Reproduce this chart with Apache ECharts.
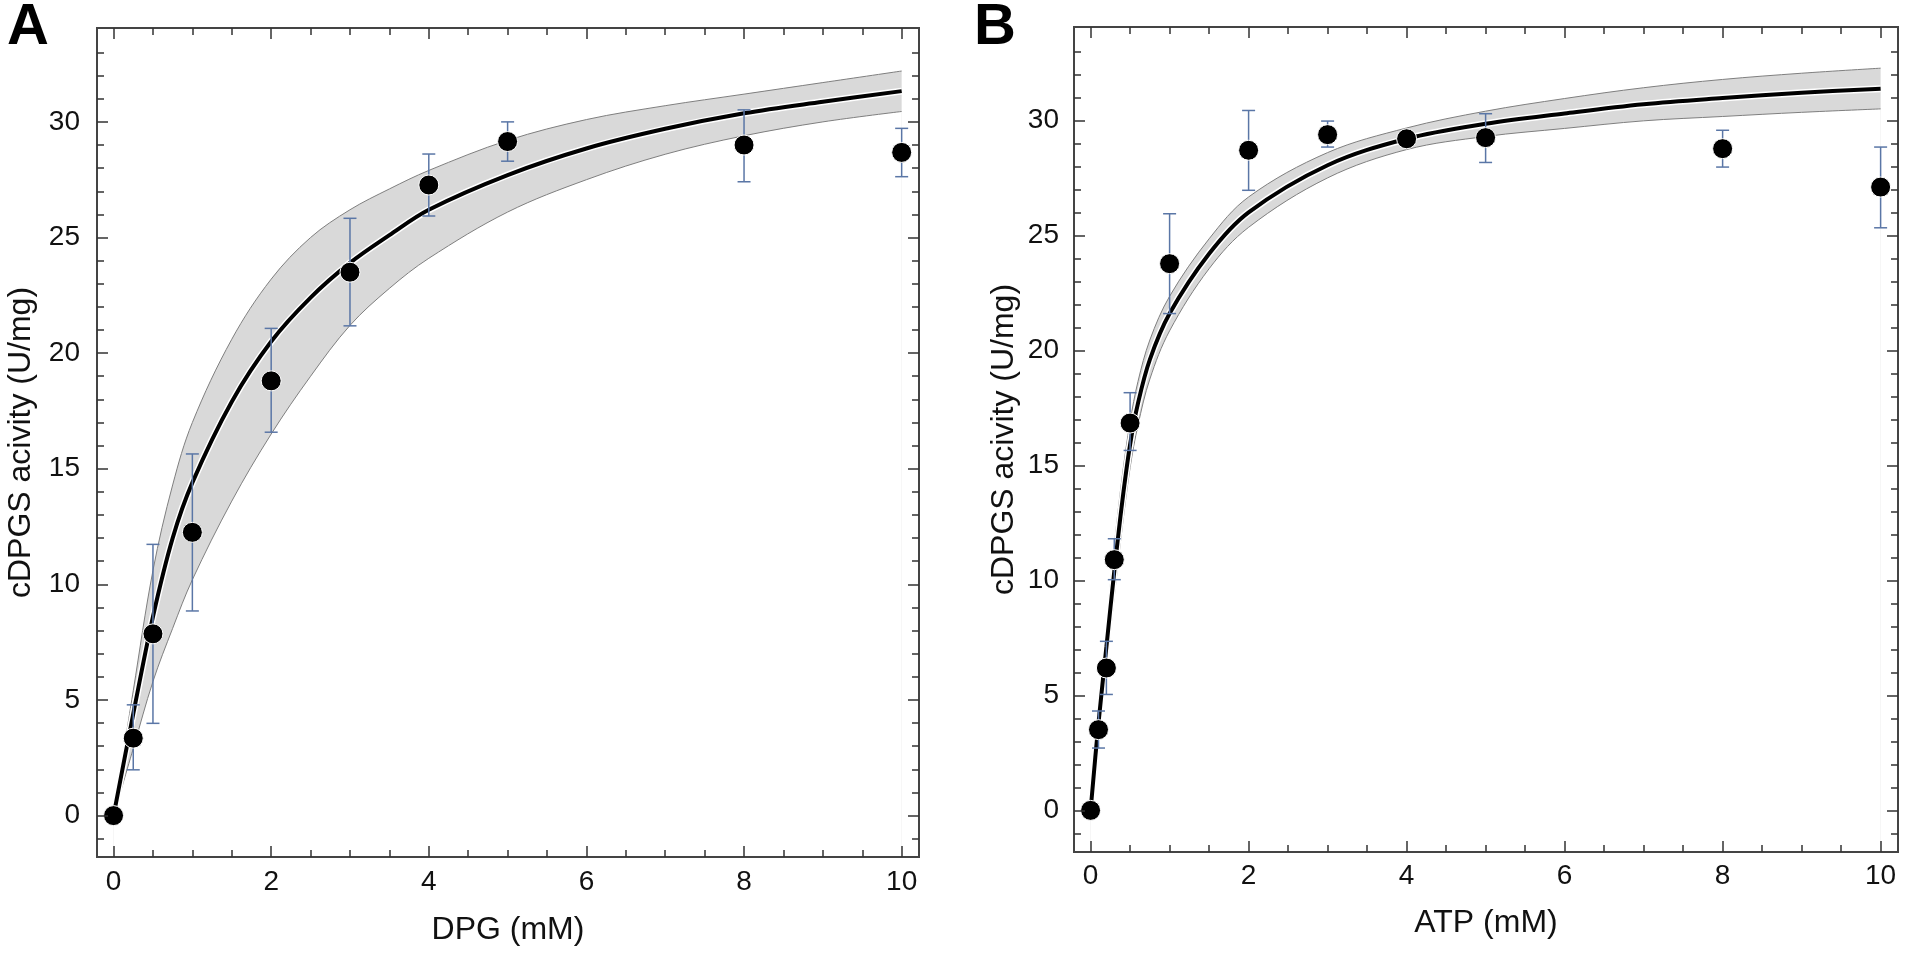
<!DOCTYPE html>
<html>
<head>
<meta charset="utf-8">
<title>cDPGS kinetics</title>
<script src="https://cdn.jsdelivr.net/npm/echarts@6/dist/echarts.min.js"></script>
<style>
html, body { margin: 0; padding: 0; background: #fff; }
#main { width: 1906px; height: 957px; }
</style>
</head>
<body>
<div id="main"></div>
<script>
/*
 * cDPGS activity vs DPG / ATP, two panels (A, B)
 */
var FONT = '"Liberation Sans", Arial, sans-serif';

// ---- panel A : DPG ----
var dpgX    = [0, 0.25, 0.5, 1, 2, 3, 4, 5, 8, 10];
var dpgY    = [0, 3.35, 7.86, 12.25, 18.8, 23.5, 27.27, 29.15, 29.0, 28.68];
var dpgLow  = [0, 1.98, 3.99, 8.85, 16.58, 21.18, 25.93, 28.3, 27.41, 27.63];
var dpgHigh = [0, 4.79, 11.73, 15.64, 21.07, 25.83, 28.61, 30.0, 30.52, 29.72];

var dpgFitX   = [0, 0.25, 0.5, 0.75, 1, 1.5, 2, 2.5, 3, 3.5, 4, 5, 6, 7, 8, 9, 10];
var dpgFit    = [0, 4.4, 8.6, 12.0, 14.4, 17.9, 20.5, 22.4, 23.9, 25.1, 26.2, 27.7, 28.85, 29.7, 30.37, 30.87, 31.33];
var dpgBandHi = [0, 5.4, 10.6, 14.3, 17.0, 20.6, 23.2, 25.0, 26.2, 27.1, 27.9, 29.2, 30.1, 30.7, 31.2, 31.7, 32.2];
var dpgBandLo = [0, 2.9, 5.8, 8.1, 10.2, 13.6, 16.5, 19.0, 21.2, 22.8, 24.1, 26.1, 27.5, 28.6, 29.4, 30.0, 30.45];

// ---- panel B : ATP ----
var atpX    = [0, 0.1, 0.2, 0.3, 0.5, 1, 2, 3, 4, 5, 8, 10];
var atpY    = [0, 3.51, 6.19, 10.9, 16.84, 23.77, 28.7, 29.38, 29.2, 29.25, 28.77, 27.1];
var atpLow  = [0, 2.71, 5.04, 10.03, 15.65, 21.6, 26.96, 28.84, 29.0, 28.17, 27.97, 25.33];
var atpHigh = [0, 4.32, 7.35, 11.81, 18.16, 25.94, 30.43, 29.97, 29.4, 30.29, 29.57, 28.84];

var atpFitX   = [0, 0.1, 0.2, 0.3, 0.4, 0.5, 0.6, 0.75, 1, 1.5, 2, 3, 4, 5, 6, 7, 8, 9, 10];
var atpFit    = [0, 3.8, 7.1, 10.4, 13.4, 15.9, 17.7, 19.6, 21.6, 24.2, 26.0, 28.05, 29.2, 29.85, 30.3, 30.7, 30.97, 31.2, 31.38];
var atpBandHi = [0, 4.3, 8.0, 11.5, 14.5, 16.9, 18.65, 20.45, 22.35, 24.85, 26.67, 28.6, 29.67, 30.4, 30.95, 31.42, 31.78, 32.05, 32.27];
var atpBandLo = [0, 3.3, 6.2, 9.3, 12.3, 14.9, 16.75, 18.75, 20.85, 23.55, 25.35, 27.5, 28.73, 29.3, 29.65, 29.98, 30.17, 30.35, 30.5];

// ---- ticks ----
var xMajor = [0, 2, 4, 6, 8, 10];
var xMinor = [0.5, 1, 1.5, 2.5, 3, 3.5, 4.5, 5, 5.5, 6.5, 7, 7.5, 8.5, 9, 9.5];
var yMajor = [0, 5, 10, 15, 20, 25, 30];
var yMinor = [-1, 1, 2, 3, 4, 6, 7, 8, 9, 11, 12, 13, 14, 16, 17, 18, 19,
              21, 22, 23, 24, 26, 27, 28, 29, 31, 32, 33];

var xRange = [-0.21, 10.22];
var yRangeA = [-1.79, 34.06];
var yRangeB = [-1.81, 34.06];

function sideAxis(g, pos, range, ticks, len, extra) {
	var a = {
		gridIndex : g,
		type : 'value',
		position : pos,
		min : range[0],
		max : range[1],
		z : 10,
		axisLine : { show : false, onZero : false },
		splitLine : { show : false },
		axisPointer : { show : false },
		axisTick : {
			show : true,
			inside : true,
			length : len,
			customValues : ticks,
			lineStyle : { color : '#333', width : 1.5 }
		},
		axisLabel : { show : false, customValues : ticks }
	};
	return Object.assign(a, extra || {});
}

function labelled(ticks, margin) {
	return {
		show : true,
		customValues : ticks,
		margin : margin,
		fontSize : 28,
		color : '#111',
		fontFamily : FONT
	};
}

var titleStyle = { fontSize : 32, color : '#111', fontFamily : FONT };

function xAxesFor(g, name, gap, margin) {
	return [
		sideAxis(g, 'bottom', xRange, xMajor, 11, {
			axisLabel : labelled(xMajor, margin),
			name : name,
			nameLocation : 'middle',
			nameGap : gap,
			nameTextStyle : titleStyle
		}),
		sideAxis(g, 'bottom', xRange, xMinor, 7),
		sideAxis(g, 'top', xRange, xMajor, 11),
		sideAxis(g, 'top', xRange, xMinor, 7)
	];
}

function yAxesFor(g, range, gap, margin) {
	return [
		sideAxis(g, 'left', range, yMajor, 11, {
			axisLabel : labelled(yMajor, margin),
			name : 'cDPGS acivity (U/mg)',
			nameLocation : 'middle',
			nameGap : gap,
			nameTextStyle : titleStyle
		}),
		sideAxis(g, 'left', range, yMinor, 7),
		sideAxis(g, 'right', range, yMajor, 11),
		sideAxis(g, 'right', range, yMinor, 7)
	];
}

function pairs(xs, ys) {
	return xs.map(function(x, i) { return [x, ys[i]]; });
}

function errorBarItem(params, api) {
	var x = api.value(0), lo = api.value(1), hi = api.value(2);
	if (hi - lo < 0.05) return null;
	var top = api.coord([x, hi]);
	var bot = api.coord([x, lo]);
	var w = 6.5;
	var st = { stroke : '#5a76a6', lineWidth : 1.5 };
	return {
		type : 'group',
		children : [
			{ type : 'line', shape : { x1 : top[0], y1 : top[1], x2 : bot[0], y2 : bot[1] }, style : st },
			{ type : 'line', shape : { x1 : top[0] - w, y1 : top[1], x2 : top[0] + w, y2 : top[1] }, style : st },
			{ type : 'line', shape : { x1 : bot[0] - w, y1 : bot[1], x2 : bot[0] + w, y2 : bot[1] }, style : st }
		]
	};
}

function panelSeries(g, fitX, lo, hi, fit, px, py, eLo, eHi) {
	var idx = g * 4;
	var errs = px.map(function(x, i) { return [x, eLo[i], eHi[i]]; });
	var common = { xAxisIndex : idx, yAxisIndex : idx, silent : true, animation : false };
	var edge = { color : '#7f7f7f', width : 1 };
	return [
		// upper edge of the band, grey down to the axis
		Object.assign({
			type : 'line', data : pairs(fitX, hi), smooth : 0.35, symbol : 'none',
			lineStyle : edge, areaStyle : { color : '#d9d9d9', opacity : 1, origin : 'start' }, z : 1
		}, common),
		// lower edge, white below it
		Object.assign({
			type : 'line', data : pairs(fitX, lo), smooth : 0.35, symbol : 'none',
			lineStyle : edge, areaStyle : { color : '#fff', opacity : 1, origin : 'start' }, z : 2
		}, common),
		Object.assign({
			type : 'line', data : pairs(fitX, fit), smooth : 0.35, symbol : 'none',
			lineStyle : { color : '#fff', width : 7 }, z : 3
		}, common),
		Object.assign({
			type : 'line', data : pairs(fitX, fit), smooth : 0.35, symbol : 'none',
			lineStyle : { color : '#000', width : 4 }, z : 4
		}, common),
		Object.assign({
			type : 'custom', data : errs, renderItem : errorBarItem,
			encode : { x : 0, y : [1, 2] }, z : 5
		}, common),
		Object.assign({
			type : 'scatter', data : pairs(px, py), symbol : 'circle', symbolSize : 20,
			itemStyle : { color : '#000', borderColor : '#fff', borderWidth : 1, opacity : 1 }, z : 6
		}, common)
	];
}

var option = {
	backgroundColor : '#fff',
	animation : false,
	textStyle : { fontFamily : FONT },
	grid : [
		{ left : 97, top : 28, width : 822, height : 829, show : true, z : 10, borderColor : '#444', borderWidth : 2, backgroundColor : 'transparent', outerBoundsMode : 'none' },
		{ left : 1074, top : 27, width : 824, height : 825, show : true, z : 10, borderColor : '#444', borderWidth : 2, backgroundColor : 'transparent', outerBoundsMode : 'none' }
	],
	xAxis : xAxesFor(0, 'DPG (mM)', 57, 11).concat(xAxesFor(1, 'ATP (mM)', 55, 10)),
	yAxis : yAxesFor(0, yRangeA, 60, 17).concat(yAxesFor(1, yRangeB, 54, 15)),
	graphic : [
		{ type : 'text', x : 7, y : 28, style : { text : 'A', fontSize : 58, fontWeight : 'bold', fontFamily : FONT, fill : '#000', verticalAlign : 'middle' } },
		{ type : 'text', x : 974, y : 28, style : { text : 'B', fontSize : 58, fontWeight : 'bold', fontFamily : FONT, fill : '#000', verticalAlign : 'middle' } }
	],
	series : panelSeries(0, dpgFitX, dpgBandLo, dpgBandHi, dpgFit, dpgX, dpgY, dpgLow, dpgHigh)
		.concat(panelSeries(1, atpFitX, atpBandLo, atpBandHi, atpFit, atpX, atpY, atpLow, atpHigh))
};

var myChart = echarts.init(document.getElementById('main'), null, { renderer : 'canvas' });
myChart.setOption(option);
</script>
</body>
</html>
